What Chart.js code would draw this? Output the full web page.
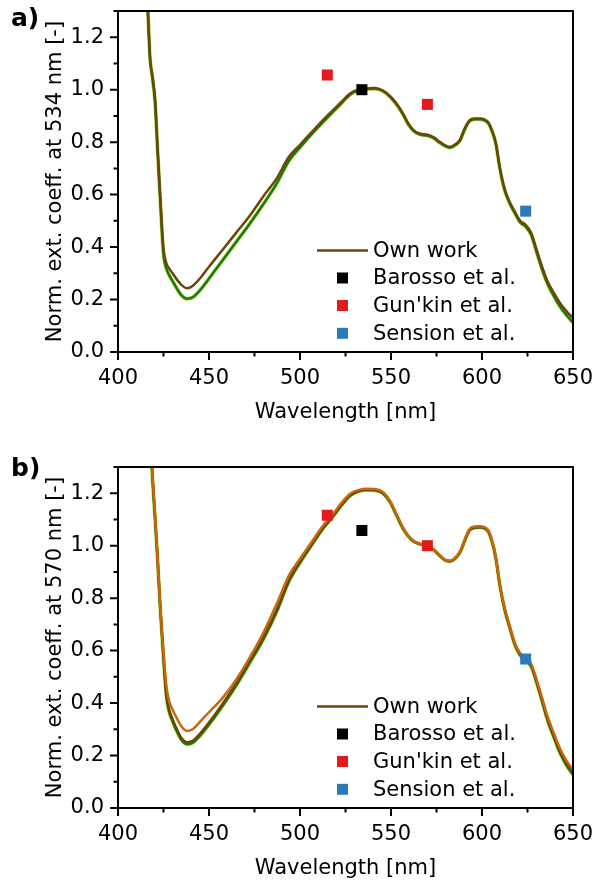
<!DOCTYPE html>
<html>
<head>
<meta charset="utf-8">
<script src="https://cdn.jsdelivr.net/npm/chart.js@4.4.1/dist/chart.umd.min.js"></script>
<style>
  html, body { margin: 0; padding: 0; background: #fff; overflow: hidden; }
  .panel { position: absolute; left: 0; width: 595px; height: 450px; }
  #panelA { top: 0; }
  #panelB { top: 450px; }
</style>
</head>
<body>
<div class="panel" id="panelA"><canvas id="chartA" width="595" height="450"></canvas></div>
<div class="panel" id="panelB"><canvas id="chartB" width="595" height="450"></canvas></div>
<script>
// shared wavelength grid of the measured spectra (nm)
const wavelength = [414, 416.4, 417.6, 419, 420.4, 421.8, 423.3, 424.9, 426.5, 428, 430, 432.5, 435, 438, 441, 445, 450, 457.5, 465, 472.5, 480, 487, 494, 500, 506, 512.5, 518, 523, 527.5, 532, 536.5, 541, 545.5, 549.5, 553, 556.5, 559.5, 562.5, 566, 570, 573.5, 577, 580, 582.5, 585, 588, 590.5, 593, 596, 599, 601.5, 603.5, 605.5, 607.5, 610, 612.5, 615, 618, 621, 624, 627, 630, 633, 636, 639.5, 643, 646.5, 650];

// a) normalised at 534 nm
const ownA = [1.55, 1.30, 1.12, 1.05, 0.96, 0.77, 0.58, 0.40, 0.34, 0.32, 0.30, 0.275, 0.255, 0.243, 0.252, 0.28, 0.325, 0.39, 0.455, 0.52, 0.595, 0.66, 0.745, 0.79, 0.835, 0.883, 0.921, 0.955, 0.985, 1.0, 1.005, 1.006, 0.997, 0.975, 0.947, 0.91, 0.871, 0.845, 0.832, 0.828, 0.818, 0.80, 0.787, 0.782, 0.79, 0.81, 0.852, 0.882, 0.89, 0.89, 0.886, 0.875, 0.845, 0.80, 0.695, 0.62, 0.575, 0.535, 0.50, 0.485, 0.455, 0.39, 0.325, 0.27, 0.225, 0.185, 0.155, 0.129];
const ownAGreen = [1.55, 1.30, 1.12, 1.04, 0.95, 0.76, 0.57, 0.38, 0.32, 0.295, 0.27, 0.24, 0.215, 0.203, 0.208, 0.235, 0.28, 0.35, 0.42, 0.49, 0.565, 0.64, 0.73, 0.78, 0.828, 0.876, 0.915, 0.95, 0.982, 0.998, 1.003, 1.004, 0.995, 0.973, 0.944, 0.907, 0.868, 0.842, 0.829, 0.825, 0.815, 0.797, 0.784, 0.779, 0.787, 0.807, 0.849, 0.879, 0.887, 0.887, 0.883, 0.872, 0.842, 0.797, 0.692, 0.616, 0.57, 0.53, 0.494, 0.478, 0.447, 0.381, 0.315, 0.26, 0.213, 0.172, 0.14, 0.112];

// b) normalised at 570 nm
const ownBOrange = [1.8, 1.55, 1.42, 1.26, 1.11, 0.95, 0.76, 0.60, 0.47, 0.41, 0.375, 0.34, 0.31, 0.294, 0.30, 0.328, 0.365, 0.42, 0.49, 0.575, 0.67, 0.775, 0.888, 0.95, 1.01, 1.075, 1.12, 1.165, 1.198, 1.212, 1.217, 1.216, 1.205, 1.17, 1.12, 1.07, 1.038, 1.018, 1.007, 1.0, 0.985, 0.962, 0.946, 0.943, 0.952, 0.978, 1.022, 1.062, 1.073, 1.074, 1.07, 1.058, 1.02, 0.96, 0.845, 0.76, 0.70, 0.63, 0.59, 0.572, 0.55, 0.49, 0.42, 0.35, 0.285, 0.225, 0.18, 0.146];
const ownB = [1.8, 1.55, 1.42, 1.255, 1.105, 0.945, 0.755, 0.59, 0.44, 0.378, 0.338, 0.298, 0.266, 0.251, 0.256, 0.283, 0.326, 0.398, 0.476, 0.563, 0.653, 0.752, 0.87, 0.94, 1.002, 1.068, 1.114, 1.159, 1.193, 1.208, 1.214, 1.213, 1.202, 1.168, 1.118, 1.068, 1.036, 1.016, 1.006, 1.0, 0.984, 0.96, 0.944, 0.941, 0.95, 0.976, 1.019, 1.058, 1.069, 1.07, 1.066, 1.054, 1.016, 0.956, 0.842, 0.757, 0.695, 0.626, 0.585, 0.566, 0.544, 0.483, 0.412, 0.34, 0.275, 0.215, 0.17, 0.136];
const ownBGreen = [1.8, 1.55, 1.42, 1.25, 1.10, 0.94, 0.75, 0.58, 0.43, 0.37, 0.33, 0.29, 0.258, 0.243, 0.248, 0.275, 0.318, 0.39, 0.468, 0.555, 0.645, 0.745, 0.865, 0.935, 0.998, 1.064, 1.11, 1.155, 1.19, 1.207, 1.212, 1.211, 1.2, 1.166, 1.116, 1.066, 1.036, 1.016, 1.006, 1.0, 0.984, 0.96, 0.944, 0.941, 0.95, 0.976, 1.019, 1.058, 1.069, 1.07, 1.066, 1.054, 1.016, 0.956, 0.84, 0.755, 0.693, 0.623, 0.582, 0.563, 0.54, 0.478, 0.407, 0.335, 0.269, 0.208, 0.162, 0.127];

// literature values
const barossoX = [534];
const barossoA = [1.0];
const barossoB = [1.058];
const gunkinX = [515, 570];
const gunkinA = [1.056, 0.944];
const gunkinB = [1.116, 1.0];
const sensionX = [624];
const sensionA = [0.537];
const sensionB = [0.568];

const legendLabels = ["Own work", "Barosso et al.", "Gun'kin et al.", "Sension et al."];

const FONT = "'DejaVu Sans', sans-serif";
const BROWN = "#6b4606";
const GREEN = "#1d7a05";
const LIME = "#b4d85a";
const ORANGE = "#c9670e";
const RED = "#e31a1c";
const BLUE = "#2a7bba";

const pts = (xs, ys) => xs.map((x, i) => ({ x: x, y: ys[i] }));

function lineSet(label, ys, color, width) {
  return {
    type: "line", label: label, data: pts(wavelength, ys),
    borderColor: color, borderWidth: width, pointRadius: 0,
    cubicInterpolationMode: "monotone", fill: false
  };
}
function dotSet(label, xs, ys, color) {
  return {
    type: "scatter", label: label, data: pts(xs, ys),
    backgroundColor: color, borderWidth: 0,
    pointStyle: "rect", pointRadius: 7.8
  };
}

// frame, outward major/minor ticks, panel letter and inner legend
const decor = {
  id: "decor",
  afterDraw(chart) {
    const { ctx, chartArea: a, scales } = chart;
    const o = chart.options.plugins.decor;
    ctx.save();
    ctx.strokeStyle = "#000";
    ctx.lineWidth = 2;
    ctx.strokeRect(a.left, a.top, a.right - a.left, a.bottom - a.top);
    ctx.beginPath();
    const xt = scales.x.ticks.map(t => t.value);
    xt.forEach((v, i) => {
      const p = scales.x.getPixelForValue(v);
      ctx.moveTo(p, a.bottom); ctx.lineTo(p, a.bottom + 8);
      if (i < xt.length - 1) {
        const m = scales.x.getPixelForValue((v + xt[i + 1]) / 2);
        ctx.moveTo(m, a.bottom); ctx.lineTo(m, a.bottom + 4.5);
      }
    });
    const yt = scales.y.ticks.map(t => t.value);
    yt.forEach((v, i) => {
      const p = scales.y.getPixelForValue(v);
      ctx.moveTo(a.left, p); ctx.lineTo(a.left - 8, p);
      const nxt = i < yt.length - 1 ? yt[i + 1] : v + (v - yt[i - 1]);
      const m = scales.y.getPixelForValue((v + nxt) / 2);
      if (m >= a.top) { ctx.moveTo(a.left, m); ctx.lineTo(a.left - 4.5, m); }
    });
    ctx.stroke();

    // panel letter
    ctx.fillStyle = "#000";
    ctx.font = "bold 25px " + FONT;
    ctx.textBaseline = "alphabetic";
    ctx.textAlign = "left";
    ctx.fillText(o.letter, 11, 26);

    // legend
    ctx.font = "21px " + FONT;
    ctx.textBaseline = "middle";
    const rows = [101.5, 74, 46.5, 18.7];
    legendLabels.forEach((lab, i) => {
      const ds = chart.data.datasets.find(d => d.label === lab);
      const y = a.bottom - rows[i];
      if (ds.type === "line") {
        ctx.strokeStyle = ds.borderColor;
        ctx.lineWidth = ds.borderWidth;
        ctx.beginPath(); ctx.moveTo(317, y); ctx.lineTo(368, y); ctx.stroke();
      } else {
        ctx.fillStyle = ds.backgroundColor;
        ctx.fillRect(342.5 - 5.5, y - 5.5, 11, 11);
      }
      ctx.fillStyle = "#000";
      ctx.fillText(lab, 373, y + 1);
    });
    ctx.restore();
  }
};

function makeChart(id, datasets, cfg) {
  return new Chart(document.getElementById(id), {
    data: { datasets: datasets },
    plugins: [decor],
    options: {
      responsive: false,
      animation: false,
      events: [],
      layout: { padding: { left: 0, right: 22, top: cfg.top, bottom: 0 } },
      plugins: { legend: { display: false }, tooltip: { enabled: false }, decor: { letter: cfg.letter } },
      scales: {
        x: {
          type: "linear", min: 400, max: 650,
          border: { display: false },
          grid: { display: false, drawTicks: false },
          ticks: { stepSize: 50, padding: 14, color: "#000", font: { family: FONT, size: 21 } },
          title: { display: true, text: "Wavelength [nm]", color: "#000", font: { family: FONT, size: 21 }, padding: { top: 0, bottom: cfg.xTitlePad } },
          afterFit: s => { s.height = cfg.xHeight; s.paddingLeft = 0; s.paddingRight = 0; }
        },
        y: {
          type: "linear", min: 0, max: 1.3,
          border: { display: false },
          grid: { display: false, drawTicks: false },
          ticks: { stepSize: 0.2, includeBounds: false, padding: 14, color: "#000", font: { family: FONT, size: 21 }, callback: v => v.toFixed(1) },
          title: { display: true, text: cfg.yTitle, color: "#000", font: { family: FONT, size: 21 }, padding: { top: 43, bottom: 0 } },
          afterFit: s => { s.width = 118; s.paddingTop = 0; s.paddingBottom = 0; }
        }
      }
    }
  });
}

makeChart("chartA", [
  dotSet("Barosso et al.", barossoX, barossoA, "#000"),
  dotSet("Gun'kin et al.", gunkinX, gunkinA, RED),
  dotSet("Sension et al.", sensionX, sensionA, BLUE),
  lineSet("Own work", ownA, BROWN, 2.5),
  lineSet("green", ownAGreen, GREEN, 2.5),
  lineSet("green edge", ownAGreen, LIME, 3.8)
], { letter: "a)", top: 11, xHeight: 98, xTitlePad: 25, yTitle: "Norm. ext. coeff. at 534 nm [-]" });

makeChart("chartB", [
  dotSet("Barosso et al.", barossoX, barossoB, "#000"),
  dotSet("Gun'kin et al.", gunkinX, gunkinB, RED),
  dotSet("Sension et al.", sensionX, sensionB, BLUE),
  lineSet("orange", ownBOrange, ORANGE, 2.5),
  lineSet("Own work", ownB, BROWN, 2.5),
  lineSet("green", ownBGreen, GREEN, 2.5),
  lineSet("green edge", ownBGreen, LIME, 3.8)
], { letter: "b)", top: 17, xHeight: 92, xTitlePad: 19, yTitle: "Norm. ext. coeff. at 570 nm [-]" });
</script>
</body>
</html>
